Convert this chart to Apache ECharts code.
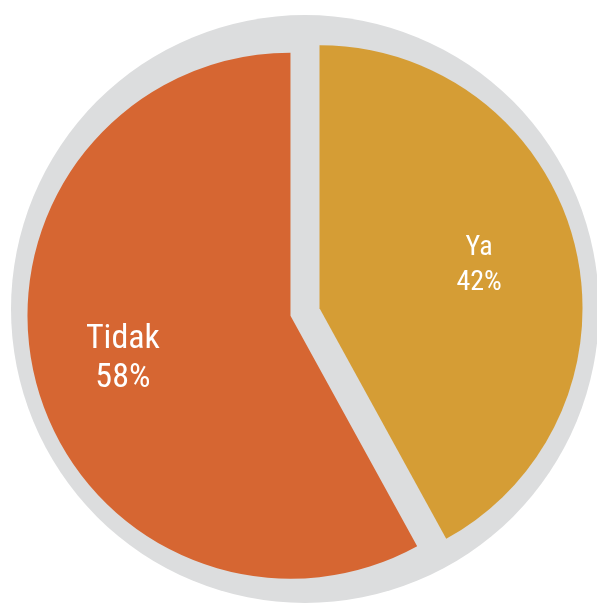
<!DOCTYPE html>
<html>
<head>
<meta charset="utf-8">
<script src="https://cdn.jsdelivr.net/npm/echarts@6/dist/echarts.min.js"></script>
<style>
html,body{margin:0;padding:0;background:#fff;}
#chart{width:597px;height:604px;}
</style>
</head>
<body>
<div id="chart"></div>
<script>
const categories = ['Ya', 'Tidak'];
const values = [42, 58];
const sliceColors = ['#D59D35', '#D66632'];
const labelSizes = [28, 34];
const labelLineHeights = [35, 39];
const labelPaddings = [[12, 16, 0, 0], [0, 0, 0, 0]];

const chart = echarts.init(document.getElementById('chart'), null, {renderer: 'canvas'});

const fontFamily = '"Liberation Sans Narrow", "Roboto Condensed", Roboto, sans-serif';

const pieData = categories.map((name, i) => ({
  name: name,
  value: values[i],
  selected: true,
  itemStyle: {color: sliceColors[i]},
  select: {itemStyle: {color: sliceColors[i]}}
}));

const labelData = categories.map((name, i) => ({
  name: name,
  value: values[i],
  selected: true,
  label: {fontSize: labelSizes[i], lineHeight: labelLineHeights[i], padding: labelPaddings[i]}
}));

chart.setOption({
  animation: false,
  series: [
    {
      type: 'pie',
      silent: true,
      center: [305, 309],
      radius: [0, 294],
      label: {show: false},
      labelLine: {show: false},
      itemStyle: {color: '#DCDDDE', borderWidth: 0},
      emphasis: {disabled: true},
      data: [{name: 'bg', value: 1}]
    },
    {
      type: 'pie',
      silent: true,
      center: [305, 312],
      radius: [0, 263],
      startAngle: 90,
      clockwise: true,
      selectedMode: 'multiple',
      selectedOffset: 15,
      label: {show: false},
      labelLine: {show: false},
      itemStyle: {borderWidth: 0},
      emphasis: {disabled: true},
      data: pieData
    },
    {
      type: 'pie',
      silent: true,
      center: [305, 312],
      radius: [0, 340],
      startAngle: 90,
      clockwise: true,
      selectedMode: 'multiple',
      selectedOffset: 15,
      itemStyle: {color: 'rgba(0,0,0,0)', borderWidth: 0},
      select: {itemStyle: {color: 'rgba(0,0,0,0)'}},
      emphasis: {disabled: true},
      labelLine: {show: false},
      label: {
        show: true,
        position: 'inside',
        formatter: '{b}\n{c}%',
        color: '#ffffff',
        fontFamily: fontFamily,
        fontWeight: 'normal',
        align: 'center'
      },
      data: labelData
    }
  ]
});
</script>
</body>
</html>
